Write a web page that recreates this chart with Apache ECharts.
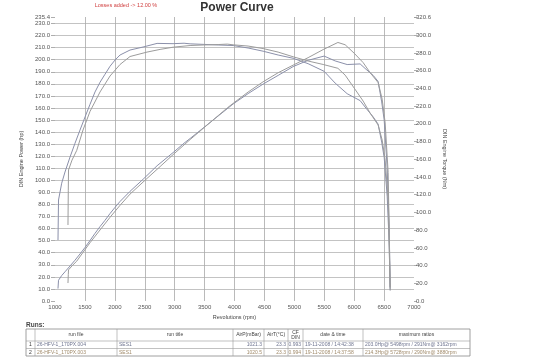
<!DOCTYPE html>
<html><head><meta charset="utf-8">
<script src="https://cdn.jsdelivr.net/npm/echarts@6/dist/echarts.min.js"></script>
<style>html,body{margin:0;padding:0;background:#fff}#c{width:538px;height:362px}</style>
</head><body><div id="c"></div>
<script>
// ---- data ----
const run1Rpm = [1050,1059,1112,1167,1251,1334,1418,1502,1585,1669,1753,1836,1920,2003,2087,2254,2472,2706,2973,3157,3258,3475,3726,3977,4227,4478,4729,4980,5230,5498,5682,5883,6100,6200,6318,6400,6460,6502,6552,6585,6602];
const run1Torque = [68.8,114,133,145.6,162.5,178,193,207.7,222,236,247,256,265,272,277.7,283.3,286.7,290.8,290.5,291.0,290.3,289.7,289,288.4,285.6,282,277.7,274,267.9,259.3,246,234,226.2,217.5,207.8,199.7,179.4,162,118,66,12];
const run1Power = [10.3,17.2,21.1,24.2,29.0,33.8,39.0,44.4,50.1,56.1,61.7,66.9,72.5,77.6,82.5,90.9,100.9,112.1,123.0,130.8,134.7,143.3,153.3,163.3,171.9,179.8,187.0,194.3,199.5,203.0,199.0,196.0,196.5,192.0,187.0,182.0,165.0,150.0,110.0,62.0,11.3];
const run2Rpm = [1217,1222,1226,1284,1363,1468,1585,1753,1920,2087,2254,2538,2756,2973,3258,3475,3726,3880,3977,4227,4478,4729,4980,5230,5482,5728,5849,6000,6150,6268,6401,6468,6518,6568,6602];
const run2Torque = [85.8,125,147.9,159,170,193,214,236,254,267,276,281,284,286.5,288.4,289,289.5,290,289.2,287.8,285,281,275.7,270.9,267,262.7,255,240.4,225.7,212,198.6,181.7,159,114,12];
const run2Power = [14.9,21.8,25.8,29.1,33.0,40.3,48.3,58.9,69.4,79.3,88.6,101.6,111.4,121.3,133.8,143.0,153.6,160.1,163.8,173.2,181.7,189.2,195.5,201.7,208.4,214.3,212.4,205.4,197.6,189.2,181.0,167.3,147.6,106.6,11.3];

const powerMax = 235.4, torqueMax = 320.6;
const tableHeader = ['', 'run file', 'run title', 'AirP(mBar)', 'AirT(°C)', 'CF\nDIN', 'date & time', 'maximum ratios'];
const tableRows = [
  ['1', '26-HFV-1_170PX.004', 'SES1', '1021.3', '23.3', '0.993', '19-11-2008 / 14:42:38', '203.0Hp@ 5498rpm / 291Nm@ 3162rpm'],
  ['2', '26-HFV-1_170PX.003', 'SES1', '1020.5', '23.3', '0.994', '19-11-2008 / 14:37:58', '214.3Hp@ 5728rpm / 290Nm@ 3880rpm']
];
const rowColors = ['#6f7590', '#a08a6a'];
// --------------------------------------

const FONT = 'Liberation Sans, Arial, sans-serif';
const run1Color = '#8b90aa', run2Color = '#9c9c9c';
const pair = (xs, ys) => xs.map((x, i) => [x, ys[i]]);

const colX = [26, 35, 117, 233, 264, 288, 303, 363, 470];
const tTop = 329, tHead = 341, tRow1 = 348.5, tBot = 356;
const g = [];
g.push({type:'rect', shape:{x:colX[0], y:tTop, width:colX[8]-colX[0], height:tBot-tTop}, style:{fill:'none', stroke:'#888', lineWidth:0.8}});
for (let i = 1; i < colX.length - 1; i++) g.push({type:'line', shape:{x1:colX[i], y1:tTop, x2:colX[i], y2:tBot}, style:{stroke:'#999', lineWidth:0.6}});
[tHead, tRow1].forEach(y => g.push({type:'line', shape:{x1:colX[0], y1:y, x2:colX[8], y2:y}, style:{stroke:'#999', lineWidth:0.6}}));
tableHeader.forEach((t, i) => {
  if (!t) return;
  g.push({type:'text', style:{text:t, x:(colX[i]+colX[i+1])/2, y:(tTop+tHead)/2, align:'center', verticalAlign:'middle', fontSize:5, lineHeight:5, fontFamily:FONT, fill:'#444'}});
});
const rowYs = [(tHead+tRow1)/2, (tRow1+tBot)/2];
tableRows.forEach((row, r) => {
  row.forEach((t, i) => {
    let x, align;
    if (i === 0) { x = (colX[0]+colX[1])/2; align = 'center'; }
    else if (i >= 3 && i <= 5) { x = colX[i+1] - 2; align = 'right'; }
    else { x = colX[i] + 2; align = 'left'; }
    g.push({type:'text', style:{text:t, x:x, y:rowYs[r], align:align, verticalAlign:'middle', fontSize:5, fontFamily:FONT, fill: i === 0 ? '#333' : rowColors[r]}});
  });
});
g.push({type:'text', style:{text:'Runs:', x:26, y:325, verticalAlign:'middle', fontSize:6.5, fontWeight:'bold', fontFamily:FONT, fill:'#444'}});
g.push({type:'text', style:{text:'Power Curve', x:237, y:8, align:'center', verticalAlign:'middle', fontSize:12, fontWeight:'bold', fontFamily:FONT, fill:'#333'}});
g.push({type:'text', style:{text:'Losses added -> 12.00 %', x:126, y:5, align:'center', verticalAlign:'middle', fontSize:5.5, fontFamily:FONT, fill:'#d04040'}});

const chart = echarts.init(document.getElementById('c'), null, {renderer:'canvas'});
chart.setOption({
  backgroundColor:'#fff',
  animation:false,
  grid:{left:55, right:124, top:17, bottom:61},
  xAxis:{type:'value', min:1000, max:7000, interval:500,
    name:'Revolutions (rpm)', nameLocation:'middle', nameGap:12,
    nameTextStyle:{fontSize:5.5, fontFamily:FONT, color:'#444'},
    axisLine:{show:false}, axisTick:{show:false},
    axisLabel:{fontSize:6, fontFamily:FONT, color:'#555', margin:3, formatter:v => String(v)},
    splitLine:{show:true, showMinLine:false, showMaxLine:false, lineStyle:{color:'#a8a8a8', width:0.8}}},
  yAxis:[
    {type:'value', min:0, max:powerMax, interval:10, position:'left',
     name:'DIN Engine Power (hp)', nameLocation:'middle', nameGap:24, nameRotate:90,
     nameTextStyle:{fontSize:5.5, fontFamily:FONT, color:'#444'},
     axisLine:{show:false}, axisTick:{show:true, length:4, lineStyle:{color:'#999', width:0.8}},
     axisLabel:{fontSize:6, fontFamily:FONT, color:'#555', margin:5, formatter:v => v.toFixed(1)},
     splitLine:{show:true, showMinLine:false, showMaxLine:false, lineStyle:{color:'#b4b4b4', width:0.8}}},
    {type:'value', min:0, max:torqueMax, interval:20, position:'right',
     name:'DIN Engine Torque (Nm)', nameLocation:'middle', nameGap:20, nameRotate:-90,
     nameTextStyle:{fontSize:5.5, fontFamily:FONT, color:'#444'},
     axisLine:{show:false}, axisTick:{show:true, length:3, lineStyle:{color:'#999', width:0.8}},
     axisLabel:{fontSize:6, fontFamily:FONT, color:'#555', margin:2, formatter:v => (Math.abs(v-320) < 0.01 ? '' : v.toFixed(1))},
     splitLine:{show:false}}
  ],
  series:[
    {type:'line', name:'Power 1', yAxisIndex:0, data:pair(run1Rpm, run1Power), showSymbol:false, lineStyle:{color:run1Color, width:1}},
    {type:'line', name:'Torque 1', yAxisIndex:1, data:pair(run1Rpm, run1Torque), showSymbol:false, lineStyle:{color:run1Color, width:1}},
    {type:'line', name:'Power 2', yAxisIndex:0, data:pair(run2Rpm, run2Power), showSymbol:false, lineStyle:{color:run2Color, width:1}},
    {type:'line', name:'Torque 2', yAxisIndex:1, data:pair(run2Rpm, run2Torque), showSymbol:false, lineStyle:{color:run2Color, width:1}}
  ],
  graphic:g
});
</script></body></html>
